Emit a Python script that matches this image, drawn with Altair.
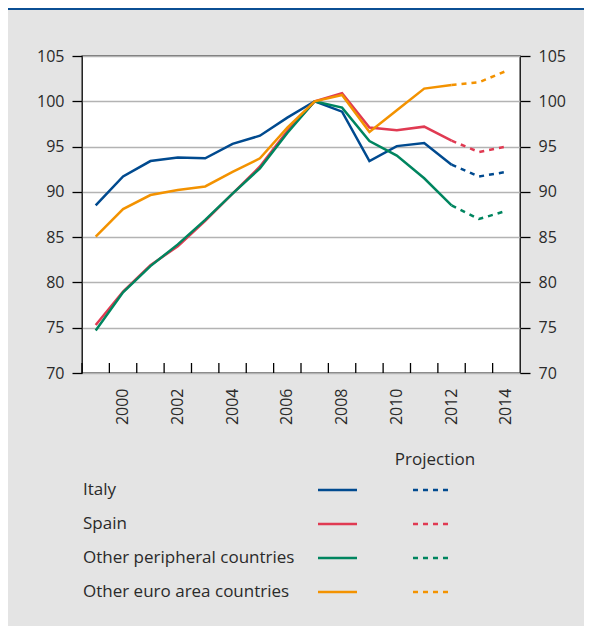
import altair as alt
import pandas as pd

years = list(range(1999, 2015))
series_names = ["Italy", "Spain", "Other peripheral countries", "Other euro area countries"]
italy = [88.5, 91.7, 93.4, 93.8, 93.7, 95.3, 96.2, 98.2, 100.0, 98.85, 93.4, 95.05, 95.4, 93.0, 91.7, 92.2]
spain = [75.3, 79.0, 81.9, 84.0, 86.8, 89.8, 92.8, 96.7, 100.0, 100.9, 97.1, 96.8, 97.2, 95.65, 94.4, 95.0]
other_periph = [74.7, 78.9, 81.8, 84.2, 86.9, 89.8, 92.6, 96.5, 100.0, 99.3, 95.6, 94.0, 91.5, 88.5, 87.0, 87.9]
other_euro = [85.05, 88.1, 89.65, 90.2, 90.6, 92.2, 93.7, 97.1, 100.0, 100.7, 96.6, 99.0, 101.4, 101.8, 102.1, 103.35]
colors = ["#004a8f", "#e03a52", "#00855f", "#f39200"]
label_years = [2000, 2002, 2004, 2006, 2008, 2010, 2012, 2014]
y_ticks = [70, 75, 80, 85, 90, 95, 100, 105]
projection_start = 2012

rows = []
for name, vals in zip(series_names, [italy, spain, other_periph, other_euro]):
    for y, v in zip(years, vals):
        rows.append({"year": y, "series": name, "value": v})
df = pd.DataFrame(rows)
df_hist = df[df.year <= projection_start]
df_proj = df[df.year >= projection_start]
df_years = pd.DataFrame({"year": years})
df_leg = pd.DataFrame({"series": series_names})

FONT = "Open Sans"
TXT = "#2a2a2a"
W, H = 438, 317

xscale = alt.Scale(type="band", paddingInner=0, paddingOuter=0, domain=years)
yscale = alt.Scale(domain=[70, 105], nice=False, zero=False)
cscale = alt.Scale(domain=series_names, range=colors)
legscale = alt.Scale(type="point", domain=series_names, range=[434, 536], padding=0)

ticks = alt.Chart(df_years).mark_rule(color="black", strokeWidth=1.3).encode(
    x=alt.X("year:O", scale=xscale, bandPosition=0, title=None,
            axis=alt.Axis(values=label_years, labelAngle=-90, ticks=False, tickSize=0,
                          labelPadding=15, domain=False, labelFont=FONT, labelFontSize=16,
                          labelColor=TXT, labelAlign="right", labelBaseline="middle")),
    y=alt.value(H),
    y2=alt.value(H - 10),
)

hist = alt.Chart(df_hist).mark_line(strokeWidth=2.5).encode(
    x=alt.X("year:O", scale=xscale),
    y=alt.Y("value:Q", scale=yscale, title=None,
            axis=alt.Axis(orient="left", values=y_ticks, tickSize=10, tickColor="black",
                          tickWidth=1.3, labelPadding=8, domain=False, grid=True,
                          gridColor="#b3b3b3", gridWidth=1.5, labelFont=FONT,
                          labelFontSize=16, labelColor=TXT)),
    color=alt.Color("series:N", scale=cscale, legend=None),
    detail="series:N",
)

proj = alt.Chart(df_proj).mark_line(strokeWidth=2.5, strokeDash=[5, 5]).encode(
    x=alt.X("year:O", scale=xscale),
    y=alt.Y("value:Q", scale=yscale, title=None,
            axis=alt.Axis(orient="right", values=y_ticks, tickSize=10, tickColor="black",
                          tickWidth=1.3, labelPadding=8, domain=False, grid=False,
                          labelFont=FONT, labelFontSize=16, labelColor=TXT)),
    color=alt.Color("series:N", scale=cscale, legend=None),
    detail="series:N",
)

leg_text = alt.Chart(df_leg).mark_text(align="left", baseline="middle", font=FONT,
                                       fontSize=17, color=TXT).encode(
    x=alt.value(1),
    y=alt.Y("series:N", scale=legscale, axis=None),
    text="series:N",
)

leg_solid = alt.Chart(df_leg).mark_rule(strokeWidth=2.3).encode(
    x=alt.value(236), x2=alt.value(275),
    y=alt.Y("series:N", scale=legscale, axis=None),
    color=alt.Color("series:N", scale=cscale, legend=None),
)

leg_dash = alt.Chart(df_leg).mark_rule(strokeWidth=2.3, strokeDash=[5, 5]).encode(
    x=alt.value(331), x2=alt.value(371),
    y=alt.Y("series:N", scale=legscale, axis=None),
    color=alt.Color("series:N", scale=cscale, legend=None),
)

proj_title = alt.Chart(pd.DataFrame({"t": ["Projection"]})).mark_text(
    align="center", baseline="middle", font=FONT, fontSize=17, color=TXT).encode(
    x=alt.value(353), y=alt.value(404), text="t:N")

top_rule = alt.Chart(pd.DataFrame({"t": [0]})).mark_rule(color="#0b4f94", strokeWidth=2).encode(
    x=alt.value(-74), x2=alt.value(W + 64), y=alt.value(-47))

chart = alt.layer(ticks, hist, proj, leg_text, leg_solid, leg_dash, proj_title, top_rule).resolve_scale(
    y="independent"
).properties(
    width=W, height=H,
    autosize=alt.AutoSizeParams(type="none"),
    padding={"left": 74, "top": 48, "right": 64, "bottom": 253},
    background="#e4e4e4",
).configure_view(
    fill="white", stroke="black", strokeWidth=1.3
)

chart.save("out.html", embed_options={"renderer": "svg", "actions": False})
